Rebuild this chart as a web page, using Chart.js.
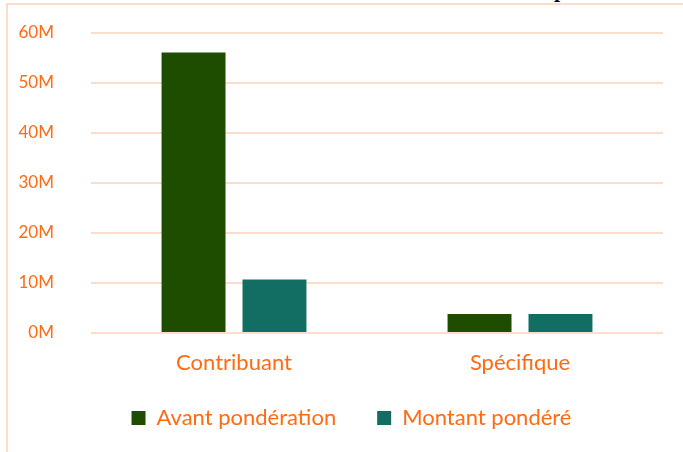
<!DOCTYPE html>
<html>
<head>
<meta charset="utf-8">
<script src="https://cdn.jsdelivr.net/npm/chart.js@4/dist/chart.umd.min.js"></script>
<style>
  html, body { margin: 0; padding: 0; background: #fff; }
  #wrap { position: relative; width: 683px; height: 452px; overflow: hidden; }
  /* cadre du graphique (bordure partielle visible) */
  #frame { position: absolute; left: 6px; top: 3px; width: 700px; height: 470px;
           border-left: 2px solid #fddccb; border-top: 2px solid #fddccb; }
  /* reste du titre coupé en haut */
  #cut { position: absolute; left: 554px; top: -23px; font: bold 22px "Liberation Serif", serif; color: #000; }
  canvas { position: absolute; left: 0; top: 0; }
</style>
</head>
<body>
<div id="wrap">
  <div id="frame"></div>
  <div id="cut">p</div>
  <canvas id="chart" width="683" height="452"></canvas>
</div>
<script>
// données
const categories = ['Contribuant', 'Spécifique'];
const avantPonderation = [56.1, 3.8];
const montantPondere = [10.7, 3.8];
const seriesNames = ['Avant pondération', 'Montant pondéré'];
const yTicks = [0, 10, 20, 30, 40, 50, 60];

const ORANGE = '#ff6a13';
const GRID = '#fddccb';

// décale la légende (position comme dans l'original)
const legendShift = {
  id: 'legendShift',
  afterLayout(chart) {
    const l = chart.legend;
    l.top -= 11; l.bottom -= 11;
    l.left += 20; l.right += 20;
  }
};

const ctx = document.getElementById('chart').getContext('2d');
new Chart(ctx, {
  type: 'bar',
  data: {
    labels: categories,
    datasets: [{
      label: seriesNames[0],
      data: avantPonderation,
      backgroundColor: '#1e4d00',
      categoryPercentage: 0.566,
      barPercentage: 0.79
    }, {
      label: seriesNames[1],
      data: montantPondere,
      backgroundColor: '#126e62',
      categoryPercentage: 0.566,
      barPercentage: 0.79
    }]
  },
  options: {
    responsive: false,
    animation: false,
    layout: { padding: { top: 33, right: 20, bottom: 2, left: 0 } },
    plugins: {
      legend: {
        position: 'bottom',
        labels: {
          color: ORANGE,
          font: { family: 'Lato', size: 22 },
          boxWidth: 14,
          boxHeight: 14,
          padding: 41
        }
      },
      tooltip: { enabled: false }
    },
    scales: {
      x: {
        grid: { display: false },
        border: { display: false },
        ticks: { color: ORANGE, font: { family: 'Lato', size: 22 }, padding: 9 },
        afterFit: s => { s.height = 44; }
      },
      y: {
        min: 0,
        max: 60,
        afterBuildTicks: s => { s.ticks = yTicks.map(v => ({ value: v })); },
        grid: { color: GRID, lineWidth: 2, tickLength: 33, tickColor: 'transparent' },
        border: { display: false },
        ticks: {
          color: ORANGE,
          font: { family: 'Lato', size: 17 },
          padding: 4,
          callback: v => v + 'M'
        },
        afterFit: s => { s.width = 91; }
      }
    }
  },
  plugins: [legendShift]
});
</script>
</body>
</html>
